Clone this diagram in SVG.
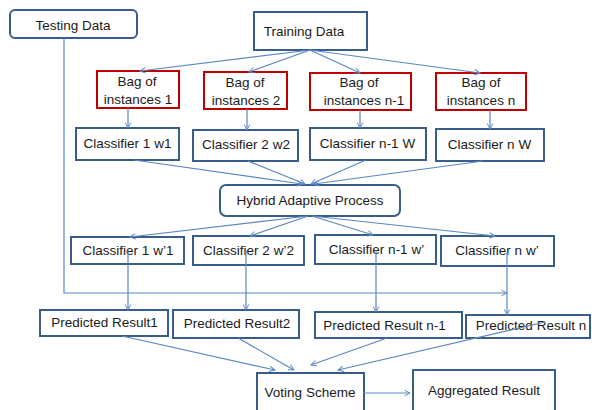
<svg xmlns="http://www.w3.org/2000/svg" width="592" height="410" viewBox="0 0 592 410">
  <style>
    .box { fill: #ffffff; stroke: #385d8a; stroke-width: 2; }
    .bag { fill: #ffffff; stroke: #c00000; stroke-width: 2; }
    .lbl { font-family: "Liberation Sans", Arial, sans-serif; font-size: 13.5px; fill: #1a1a1a; text-anchor: middle; }
    .conn { fill: none; stroke: #5b87c5; stroke-width: 1.2; }
  </style>
  <defs>
    <marker id="arr" viewBox="0 0 10 10" refX="9" refY="5" markerWidth="7" markerHeight="7" orient="auto" markerUnits="userSpaceOnUse">
      <path d="M1,1 L9,5 L1,9" fill="none" stroke="#5b87c5" stroke-width="1.4"/>
    </marker>
  </defs>

  <rect width="592" height="410" fill="#ffffff"/>

  <!-- nodes -->
  <g id="testing-data">
    <rect class="box" x="10" y="10" width="127" height="28" rx="5"/>
    <text class="lbl" x="73" y="30">Testing Data</text>
  </g>
  <g id="training-data">
    <rect class="box" x="254" y="12" width="113" height="38"/>
    <text class="lbl" x="304" y="36">Training Data</text>
  </g>

  <g id="bag-1">
    <rect class="bag" x="97" y="71" width="82" height="37"/>
    <text class="lbl" x="137" y="86">Bag of</text>
    <text class="lbl" x="138" y="104">instances 1</text>
  </g>
  <g id="bag-2">
    <rect class="bag" x="204" y="72" width="83" height="37"/>
    <text class="lbl" x="245" y="87">Bag of</text>
    <text class="lbl" x="246" y="105">instances 2</text>
  </g>
  <g id="bag-n-1">
    <rect class="bag" x="310" y="73" width="101" height="37"/>
    <text class="lbl" x="359" y="87">Bag of</text>
    <text class="lbl" x="364" y="105">instances n-1</text>
  </g>
  <g id="bag-n">
    <rect class="bag" x="436" y="73" width="90" height="37"/>
    <text class="lbl" x="481" y="87">Bag of</text>
    <text class="lbl" x="481" y="105">instances n</text>
  </g>

  <g id="classifier-1">
    <rect class="box" x="76" y="128" width="103" height="32"/>
    <text class="lbl" x="127.5" y="148">Classifier 1 w1</text>
  </g>
  <g id="classifier-2">
    <rect class="box" x="193" y="130" width="105" height="31"/>
    <text class="lbl" x="246" y="149">Classifier 2 w2</text>
  </g>
  <g id="classifier-n-1">
    <rect class="box" x="310" y="128" width="116" height="32"/>
    <text class="lbl" x="367.5" y="148">Classifier n-1 W</text>
  </g>
  <g id="classifier-n">
    <rect class="box" x="436" y="129" width="108" height="32"/>
    <text class="lbl" x="489.5" y="149">Classifier n W</text>
  </g>

  <g id="hybrid-adaptive">
    <rect class="box" x="220" y="185" width="180" height="31" rx="6"/>
    <text class="lbl" x="310" y="205">Hybrid Adaptive Process</text>
  </g>

  <g id="classifier-1-prime">
    <rect class="box" x="71" y="237" width="113" height="27"/>
    <text class="lbl" x="128" y="255">Classifier 1 w’1</text>
  </g>
  <g id="classifier-2-prime">
    <rect class="box" x="193" y="236" width="111" height="29"/>
    <text class="lbl" x="248.5" y="255">Classifier 2 w’2</text>
  </g>
  <g id="classifier-n-1-prime">
    <rect class="box" x="315" y="235" width="121" height="29"/>
    <text class="lbl" x="376.5" y="254">Classifier n-1 w’</text>
  </g>
  <g id="classifier-n-prime">
    <rect class="box" x="441" y="236" width="113" height="30"/>
    <text class="lbl" x="497" y="255">Classifier n w’</text>
  </g>

  <g id="predicted-1">
    <rect class="box" x="40" y="310" width="128" height="26"/>
    <text class="lbl" x="104.5" y="327">Predicted Result1</text>
  </g>
  <g id="predicted-2">
    <rect class="box" x="173" y="310" width="126" height="28"/>
    <text class="lbl" x="237" y="328">Predicted Result2</text>
  </g>
  <g id="predicted-n-1">
    <rect class="box" x="315" y="312" width="147" height="26"/>
    <text class="lbl" x="384.5" y="330">Predicted Result n-1</text>
  </g>
  <g id="predicted-n">
    <rect class="box" x="466" y="315" width="124" height="23"/>
    <text class="lbl" x="531" y="330">Predicted Result n</text>
  </g>

  <g id="voting-scheme">
    <rect class="box" x="257" y="373" width="107" height="45"/>
    <text class="lbl" x="310" y="397">Voting Scheme</text>
  </g>
  <g id="aggregated-result">
    <rect class="box" x="413" y="370" width="142" height="48"/>
    <text class="lbl" x="484" y="395">Aggregated Result</text>
  </g>

  <!-- connectors -->
  <g id="connectors" class="conn">
    <!-- training data to bags -->
    <line x1="310" y1="50" x2="140" y2="71" marker-end="url(#arr)"/>
    <line x1="310" y1="50" x2="249" y2="72" marker-end="url(#arr)"/>
    <line x1="310" y1="50" x2="360" y2="73" marker-end="url(#arr)"/>
    <line x1="310" y1="50" x2="480" y2="73" marker-end="url(#arr)"/>
    <!-- bags to classifiers -->
    <line x1="128" y1="108" x2="128" y2="128" marker-end="url(#arr)"/>
    <line x1="247" y1="109" x2="247" y2="130" marker-end="url(#arr)"/>
    <line x1="360" y1="110" x2="360" y2="128" marker-end="url(#arr)"/>
    <line x1="490" y1="110" x2="490" y2="129" marker-end="url(#arr)"/>
    <!-- classifiers to hybrid adaptive process -->
    <line x1="134" y1="160" x2="302" y2="184" marker-end="url(#arr)"/>
    <line x1="248" y1="161" x2="305" y2="184" marker-end="url(#arr)"/>
    <line x1="366" y1="160" x2="311" y2="184" marker-end="url(#arr)"/>
    <line x1="483" y1="161" x2="314" y2="184" marker-end="url(#arr)"/>
    <!-- hybrid adaptive process to re-weighted classifiers -->
    <line x1="308" y1="216" x2="130" y2="237" marker-end="url(#arr)"/>
    <line x1="308" y1="216" x2="250" y2="236" marker-end="url(#arr)"/>
    <line x1="312" y1="216" x2="373" y2="235" marker-end="url(#arr)"/>
    <line x1="312" y1="216" x2="495" y2="236" marker-end="url(#arr)"/>
    <!-- testing data feed -->
    <polyline points="64,38 64,293 507,293" marker-end="url(#arr)"/>
    <!-- re-weighted classifiers to predictions -->
    <line x1="128" y1="250" x2="128" y2="310" marker-end="url(#arr)"/>
    <line x1="246" y1="250" x2="246" y2="310" marker-end="url(#arr)"/>
    <line x1="376" y1="250" x2="376" y2="312" marker-end="url(#arr)"/>
    <line x1="507" y1="252" x2="507" y2="315" marker-end="url(#arr)"/>
    <!-- predictions to voting scheme -->
    <line x1="122" y1="336" x2="275" y2="370" marker-end="url(#arr)"/>
    <line x1="238" y1="338" x2="294" y2="370" marker-end="url(#arr)"/>
    <line x1="387" y1="338" x2="311" y2="365" marker-end="url(#arr)"/>
    <line x1="545" y1="322" x2="338" y2="370" marker-end="url(#arr)"/>
    <!-- voting scheme to aggregated result -->
    <line x1="364" y1="393" x2="410" y2="393" marker-end="url(#arr)"/>
  </g>
</svg>
